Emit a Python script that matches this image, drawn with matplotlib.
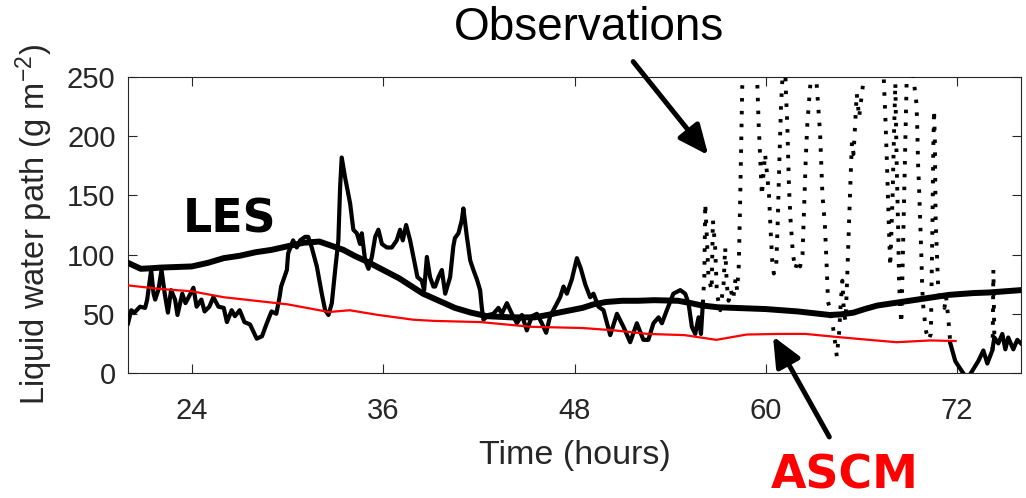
import matplotlib
matplotlib.use('Agg')
import matplotlib.pyplot as plt

# === Данные (часы, г/м2) ===
# LES - гладкая толстая линия
les_t = [20, 20.8, 21.5, 22, 23, 24, 25, 26, 27, 28, 29, 30, 31, 32, 33.5, 34.2, 35, 36, 37,
         38.5, 39.5, 40.5, 41.5, 42.5, 44, 45.5, 46.3, 47, 48.5, 49.2, 50, 51, 52, 53,
         54.5, 55.3, 56, 57, 58, 60, 62, 63, 64, 64.7, 65.5, 66.2, 67, 68, 69, 70,
         71.5, 73, 74, 75, 76]
les_v = [93, 88, 88.5, 89, 89.5, 90, 93, 97, 99, 102, 104, 107, 110, 111, 104, 99, 94, 87, 80,
         67, 61, 55, 51, 48, 47, 47, 49, 51, 55, 58, 60, 61, 61, 61.5,
         61, 59, 57, 55.5, 55, 54, 52, 50.5, 49, 49.5, 51, 54, 57, 59, 61, 63,
         66, 67.5, 68, 69, 70]

# ASCM - красная линия
ascm_t = [20, 22, 24, 26, 28, 30, 32.6, 33.9, 35.7, 37.9, 39.2, 42.1, 45.3, 48.5,
          50.5, 52.6, 54.9, 56.9, 58.8, 60.8, 62.5, 64.4, 66.9, 68.2, 70.3, 71.9]
ascm_v = [74, 71, 69, 64, 61, 58, 51.5, 53, 49, 45, 44, 43, 39, 38,
          36, 33, 32, 28, 32.5, 33, 33, 30.5, 27.5, 26, 27.5, 27]

# Наблюдения, часть 1 (плотные, сплошная линия)
obs_a_t = [20.0, 20.2, 20.4, 20.75, 21.07, 21.2, 21.45, 21.6, 21.7, 21.9,
           22.1, 22.3, 22.5, 22.7, 22.95, 23.1, 23.4, 23.6, 23.8, 24.1,
           24.3, 24.6, 24.8, 25.1, 25.35, 25.67, 26.0, 26.2, 26.5, 26.7,
           27.0, 27.3, 27.65, 28.07, 28.4, 28.7, 29.0, 29.3, 29.5, 29.6,
           29.96, 30.04, 30.35, 30.58, 30.79, 31.1, 31.3, 31.52, 31.84, 32.15,
           32.36, 32.57, 32.78, 32.99, 33.19, 33.3, 33.4, 33.6, 33.93, 34.13,
           34.35, 34.55, 34.66, 34.87, 35.08, 35.29, 35.5, 35.7, 35.92, 36.23,
           36.54, 36.85, 37.06, 37.23, 37.44, 37.69, 37.9, 38.15, 38.42, 38.57,
           38.74, 38.94, 39.15, 39.26, 39.47, 39.68, 39.89, 40.2, 40.4, 40.5,
           40.72, 40.93, 41.03, 41.25, 41.46, 41.66, 41.88, 42.08, 42.18, 42.29,
           42.6, 42.91, 43.23, 43.44, 43.76, 44.07, 44.39, 44.7, 45.01, 45.33,
           45.64, 45.95, 46.22, 46.47, 46.79, 47.1, 47.31, 47.52, 47.83, 48.15,
           48.4, 48.67, 48.98, 49.19, 49.5, 49.82, 50.24, 50.66, 51.07, 51.49,
           51.91, 52.32, 52.63, 52.95, 53.27, 53.48, 53.79, 54.2, 54.63, 54.94,
           55.15, 55.36, 55.57, 55.78, 55.93, 56.05]
obs_a_v = [42, 53, 51, 56, 55, 62, 87, 67, 62, 70,
           87, 67, 51, 70, 62, 49, 67, 59, 64, 72,
           56, 62, 52, 56, 64, 56, 55, 43, 53, 48,
           53, 43, 41, 29, 31, 42, 52, 50, 64, 73,
           87, 101, 112, 106, 112, 115, 115, 106, 90, 67,
           53, 49, 59, 87, 112, 157, 182, 166, 143, 121,
           118, 109, 118, 95, 88, 98, 115, 121, 109, 106,
           106, 112, 121, 112, 125, 112, 98, 81, 78, 70,
           98, 81, 73, 73, 81, 87, 67, 81, 107, 114,
           118, 129, 139, 115, 95, 87, 79, 70, 56, 45,
           49, 50, 55, 50, 59, 50, 42, 49, 36, 48,
           50, 42, 34, 48, 56, 64, 73, 67, 79, 97,
           88, 75, 64, 67, 56, 53, 32, 50, 39, 26,
           42, 28, 28, 42, 47, 42, 53, 67, 70, 67,
           59, 39, 33, 47, 33, 59]

# Наблюдения, часть 2 (редкие точки)
obs_b_t = [56.05, 56.14, 56.2, 56.3, 56.4, 56.6, 56.68, 56.82, 56.93, 57.14,
           57.35, 57.45, 57.55, 57.66, 57.8, 57.95, 58.1, 58.2, 58.3, 58.38,
           58.45, 58.52, 59.0, 59.45, 59.55, 59.65, 59.75, 59.95, 60.1, 60.2,
           60.3, 60.4, 60.5, 60.65, 60.75, 60.85, 60.95, 61.05, 61.15, 61.25,
           61.35, 61.45, 61.55, 61.7, 61.85, 62.0, 62.15, 62.3, 62.4, 62.5,
           62.6, 62.7, 63.0, 63.4, 63.55, 63.7, 63.8, 63.9, 64.05, 64.2,
           64.35, 64.45, 64.6, 64.7, 64.8, 64.9, 65.0, 65.1, 65.2, 65.3,
           65.4, 65.5, 65.6, 65.7, 65.85, 66.5, 67.3, 67.5, 67.6, 67.7,
           67.8, 67.95, 68.05, 68.12, 68.2, 68.3, 68.35, 68.42, 68.5, 68.9,
           69.45, 69.5, 69.55, 69.6, 69.65, 69.7, 69.75, 69.8, 69.85, 69.9,
           70.05, 70.2, 70.35, 70.45, 70.5, 70.55, 70.6, 70.65, 70.8, 70.95,
           71.05, 71.2, 71.3, 71.45, 71.57]
obs_b_v = [59, 81, 143, 115, 81, 70, 129, 106, 67, 53,
           75, 106, 75, 61, 70, 62, 80, 70, 90, 140,
           190, 242, 290, 250, 210, 180, 150, 185, 165, 150,
           120, 95, 84, 90, 130, 180, 225, 252, 290, 240,
           208, 157, 129, 100, 88, 95, 90, 100, 140, 180,
           210, 228, 280, 203, 150, 126, 95, 60, 53, 40,
           25, 14, 35, 60, 78, 50, 44, 80, 120, 160,
           195, 185, 210, 236, 216, 290, 280, 214, 175, 130,
           90, 150, 209, 245, 180, 120, 80, 55, 42, 290,
           227, 205, 175, 160, 140, 120, 100, 75, 60, 52,
           35, 28, 33, 129, 190, 222, 195, 129, 75, 60,
           70, 55, 65, 45, 25]

# Наблюдения, часть 3 (снова сплошная) и короткий всплеск точками
obs_c_t = [71.57, 71.88, 72.32, 72.63, 73.0, 73.32, 73.64, 73.89, 74.2, 74.33,
           74.58, 74.83, 75.02, 75.2, 75.52, 75.77, 76.0]
obs_c_v = [25, 10, 1, -5, 3, 10, 19, 8, 19, 30,
           25, 33, 20, 30, 20, 28, 25]
spike_t = [74.22, 74.27, 74.33]
spike_v = [19, 87, 30]

x_ticks = [24, 36, 48, 60, 72]
y_ticks = [0, 50, 100, 150, 200, 250]

# === Шрифты ===
plt.rcParams['font.family'] = ['Liberation Sans', 'DejaVu Sans']
plt.rcParams['mathtext.fontset'] = 'custom'
plt.rcParams['mathtext.rm'] = 'Liberation Sans'
plt.rcParams['mathtext.it'] = 'Liberation Sans:italic'

axis_color = '#262626'

fig = plt.figure(figsize=(10.26, 4.98), dpi=100)
ax = fig.add_axes([0.1248, 0.251, 0.8703, 0.5944])

# Наблюдения
dots = (0, (0.9, 2.4))
ax.plot(obs_a_t, obs_a_v, color='k', lw=3.0, zorder=3)
ax.plot(obs_b_t, obs_b_v, color='k', lw=2.8, linestyle=dots, zorder=3)
ax.plot(obs_c_t, obs_c_v, color='k', lw=3.0, zorder=3)
ax.plot(spike_t, spike_v, color='k', lw=2.8, linestyle=dots, zorder=3)

# Модели
ax.plot(les_t, les_v, color='k', lw=4.3, zorder=4)
ax.plot(ascm_t, ascm_v, color='#ff0000', lw=1.6, zorder=4)

ax.set_xlim(20, 76)
ax.set_ylim(0, 250)
ax.set_xticks(x_ticks)
ax.set_yticks(y_ticks)

ax.tick_params(axis='both', direction='in', top=True, right=True,
               length=6.5, width=0.8, colors=axis_color, labelsize=21)
ax.tick_params(axis='x', pad=17)
ax.tick_params(axis='y', pad=9)
for sp in ax.spines.values():
    sp.set_color(axis_color)
    sp.set_linewidth(0.8)

ax.set_xlabel('Time (hours)', fontsize=24.5, color=axis_color)
ax.xaxis.set_label_coords(0.5, -0.225)
ax.set_ylabel('Liquid water path (g m$^{-2}$)', fontsize=23.5, color=axis_color)
ax.yaxis.set_label_coords(-0.082, 0.5)

# Подписи
fig.text(0.224, 0.558, 'LES', fontsize=33, fontweight='bold', family='DejaVu Sans',
         ha='center', va='center', color='k')
fig.text(0.574, 0.944, 'Observations', fontsize=33, ha='center', va='center', color='k')
fig.text(0.8236, 0.044, 'ASCM', fontsize=33, fontweight='bold', family='DejaVu Sans',
         ha='center', va='center', color='#ff0000')

# Стрелки
arrow = dict(arrowstyle='-|>,head_length=0.9,head_width=0.4', lw=3.6, color='k',
             mutation_scale=20, shrinkA=0, shrinkB=0)
ax.annotate('', xy=(56.39, 184), xytext=(51.68, 263), arrowprops=arrow,
            annotation_clip=False)
ax.annotate('', xy=(60.45, 31), xytext=(63.98, -54), arrowprops=arrow,
            annotation_clip=False)

fig.savefig('out.png', dpi=100)
